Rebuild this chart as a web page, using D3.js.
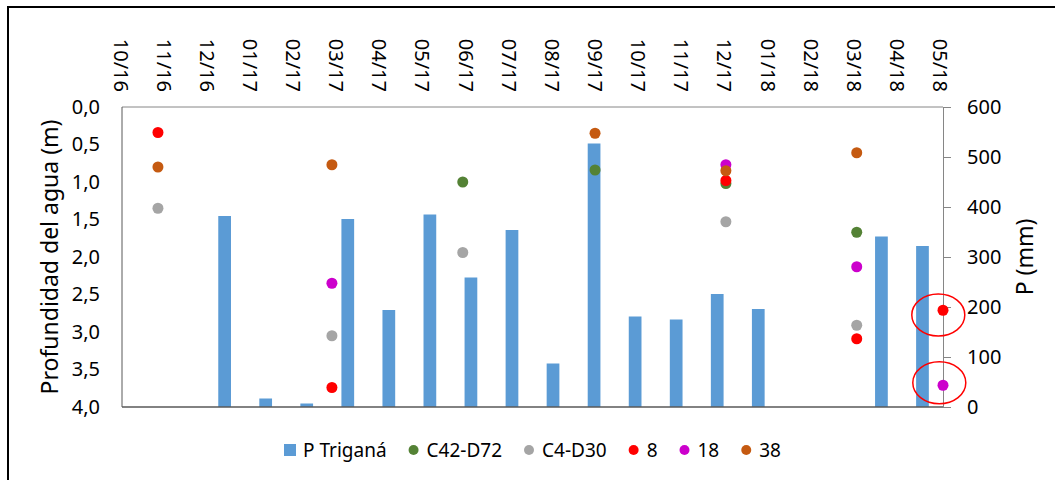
<!DOCTYPE html>
<html>
<head>
<meta charset="utf-8">
<script src="https://cdn.jsdelivr.net/npm/d3@7"></script>
<style>
  html, body { margin: 0; padding: 0; background: #fff; }
  svg { display: block; font-family: "Noto Sans", "DejaVu Sans", sans-serif; }
</style>
</head>
<body>
<svg id="chart" width="1055" height="480"></svg>
<script>
// ---- Data ----
const months = ["10/16","11/16","12/16","01/17","02/17","03/17","04/17","05/17","06/17","07/17",
                "08/17","09/17","10/17","11/17","12/17","01/18","02/18","03/18","04/18","05/18"];
// Monthly precipitation P Triganá (mm); null = no bar
const precip = [null, null, 382, 17, 7, 376, 194, 385, 259, 354,
                87, 527, 181, 175, 226, 196, null, null, 341, 322];

// Sampling dates for water depth (m)
const sampleDates = ["2016-11-04","2017-03-05","2017-06-04","2017-09-04","2017-12-04","2018-03-05","2018-05-04"];
const depthC42D72 = [null, null, 1.00, 0.84, 1.02, 1.67, null];
const depthC4D30  = [1.35, 3.05, 1.94, null, 1.53, 2.91, null];
const depth8      = [0.34, 3.74, null, null, 0.98, 3.09, 2.71];
const depth18     = [null, 2.35, null, null, 0.77, 2.13, 3.71];
const depth38     = [0.80, 0.77, null, 0.35, 0.85, 0.61, null];

const seriesNames = ["C42-D72", "C4-D30", "8", "18", "38"];
const seriesValues = [depthC42D72, depthC4D30, depth8, depth18, depth38];
const barName = "P Triganá";

const depthTicks = [0, 0.5, 1, 1.5, 2, 2.5, 3, 3.5, 4];
const precipTicks = [0, 100, 200, 300, 400, 500, 600];
const dateAxisStart = "2016-10-10";
const dateAxisEnd = "2018-05-04";
const dateTickStepDays = 30;

// ---- Styles ----
const colors = {
  bar: "#5B9BD5",
  "C42-D72": "#548235",
  "C4-D30": "#A5A5A5",
  "8": "#FF0000",
  "18": "#CC00CC",
  "38": "#C55A11"
};

const svg = d3.select("#chart");
const L = 122, R = 943, T = 107, B = 407;
const parse = d3.utcParse("%Y-%m-%d");

// Outer frame
svg.append("path")
  .attr("d", `M8,${480} L8,7 L1060,7`)
  .attr("fill", "none").attr("stroke", "#000").attr("stroke-width", 2);

// Scales
const xBand = d3.scaleBand().domain(months).range([L, R]).paddingInner(0.69).paddingOuter(0.345);
const xTime = d3.scaleUtc().domain([parse(dateAxisStart), parse(dateAxisEnd)]).range([L, R]);
const yDepth = d3.scaleLinear().domain([0, 4]).range([T, B]);
const yP = d3.scaleLinear().domain([0, 600]).range([B, T]);

// Bars
const barData = months.map((m, i) => ({ m, v: precip[i] })).filter(d => d.v != null);
svg.append("g").selectAll("rect").data(barData).join("rect")
  .attr("x", d => xBand(d.m))
  .attr("width", xBand.bandwidth())
  .attr("y", d => yP(d.v))
  .attr("height", d => yP(0) - yP(d.v))
  .attr("fill", colors.bar);

// Axis lines
svg.append("line").attr("x1", L).attr("x2", R).attr("y1", T).attr("y2", T)
  .attr("stroke", "#868686").attr("stroke-width", 1);
svg.append("line").attr("x1", L).attr("x2", R).attr("y1", B).attr("y2", B)
  .attr("stroke", "#595959").attr("stroke-width", 1.3);
svg.append("line").attr("x1", L).attr("x2", L).attr("y1", T).attr("y2", B)
  .attr("stroke", "#595959").attr("stroke-width", 1);

// Top date axis
const tickDates = d3.range(0, 20).map(k => d3.utcDay.offset(parse(dateAxisStart), k * dateTickStepDays));
const topAxis = svg.append("g").attr("transform", `translate(0,${T})`)
  .call(d3.axisTop(xTime).tickValues(tickDates).tickFormat(d3.utcFormat("%m/%y")).tickSize(0));
topAxis.select(".domain").remove();
topAxis.selectAll("text")
  .attr("transform", "rotate(90)")
  .attr("x", -15).attr("y", 2).attr("dy", "0.35em")
  .attr("text-anchor", "end")
  .attr("font-size", 20).attr("fill", "#000")
  .style("font-family", "'Noto Sans', sans-serif");

// Left depth axis
const commaLocale = d3.formatLocale({ decimal: ",", thousands: ".", grouping: [3], currency: ["", ""] });
const leftAxis = svg.append("g").attr("transform", `translate(${L},0)`)
  .call(d3.axisLeft(yDepth).tickValues(depthTicks).tickFormat(commaLocale.format(".1f")).tickSize(0).tickPadding(22));
leftAxis.select(".domain").remove();
leftAxis.selectAll("text").attr("font-size", 20).attr("fill", "#000")
  .style("font-family", "'Noto Sans', sans-serif");

// Right precipitation axis
const rightAxis = svg.append("g").attr("transform", `translate(${R},0)`)
  .call(d3.axisRight(yP).tickValues(precipTicks).tickFormat(d3.format("d")).tickSize(8).tickPadding(16));
rightAxis.select(".domain").attr("stroke", "#868686");
rightAxis.selectAll(".tick line").attr("stroke", "#868686");
rightAxis.selectAll("text").attr("font-size", 20).attr("fill", "#000")
  .style("font-family", "'Noto Sans', sans-serif");

// Axis titles
svg.append("text")
  .attr("transform", `translate(58,${(T + B) / 2}) rotate(-90)`)
  .attr("text-anchor", "middle")
  .attr("font-size", 23).attr("fill", "#000")
  .text("Profundidad del agua (m)");
svg.append("text")
  .attr("transform", `translate(1033,${(T + B) / 2}) rotate(-90)`)
  .attr("text-anchor", "middle")
  .attr("font-size", 23).attr("fill", "#000")
  .text("P (mm)");

// Scatter points
const pts = svg.append("g");
seriesNames.forEach((name, si) => {
  const data = sampleDates.map((d, i) => ({ date: parse(d), v: seriesValues[si][i] })).filter(d => d.v != null);
  pts.append("g").selectAll("circle").data(data).join("circle")
    .attr("cx", d => xTime(d.date))
    .attr("cy", d => yDepth(d.v))
    .attr("r", 5.5)
    .attr("fill", colors[name]);
});

// Red annotation ellipses around the last-date points of series "8" and "18"
const lastIdx = sampleDates.length - 1;
const lastX = xTime(parse(sampleDates[lastIdx]));
[[depth8[lastIdx], -4.7, 4.7], [depth18[lastIdx], -3.7, -2.5]].forEach(([v, dx, dy]) => {
  svg.append("ellipse")
    .attr("cx", lastX + dx).attr("cy", yDepth(v) + dy)
    .attr("rx", 26.5).attr("ry", 21)
    .attr("fill", "none").attr("stroke", "#FF0000").attr("stroke-width", 1.5);
});

// Legend
const legendItems = [{ name: barName, type: "square", color: colors.bar }]
  .concat(seriesNames.map(n => ({ name: n, type: "dot", color: colors[n] })));
const leg = svg.append("g");
let cursor = 0;
legendItems.forEach(item => {
  const g = leg.append("g");
  if (item.type === "square") {
    g.append("rect").attr("x", cursor - 6).attr("y", -6).attr("width", 12).attr("height", 12).attr("fill", item.color);
  } else {
    g.append("circle").attr("cx", cursor).attr("cy", 0).attr("r", 5).attr("fill", item.color);
  }
  const t = g.append("text").attr("x", cursor + 13).attr("y", 0).attr("dy", "0.35em")
    .attr("font-size", 19).attr("fill", "#000").text(item.name);
  cursor += 13 + t.node().getComputedTextLength() + 27;
});
const legBox = leg.node().getBBox();
leg.attr("transform", `translate(${(L + R) / 2 - (legBox.x + legBox.width / 2)},450)`);
</script>
</body>
</html>
